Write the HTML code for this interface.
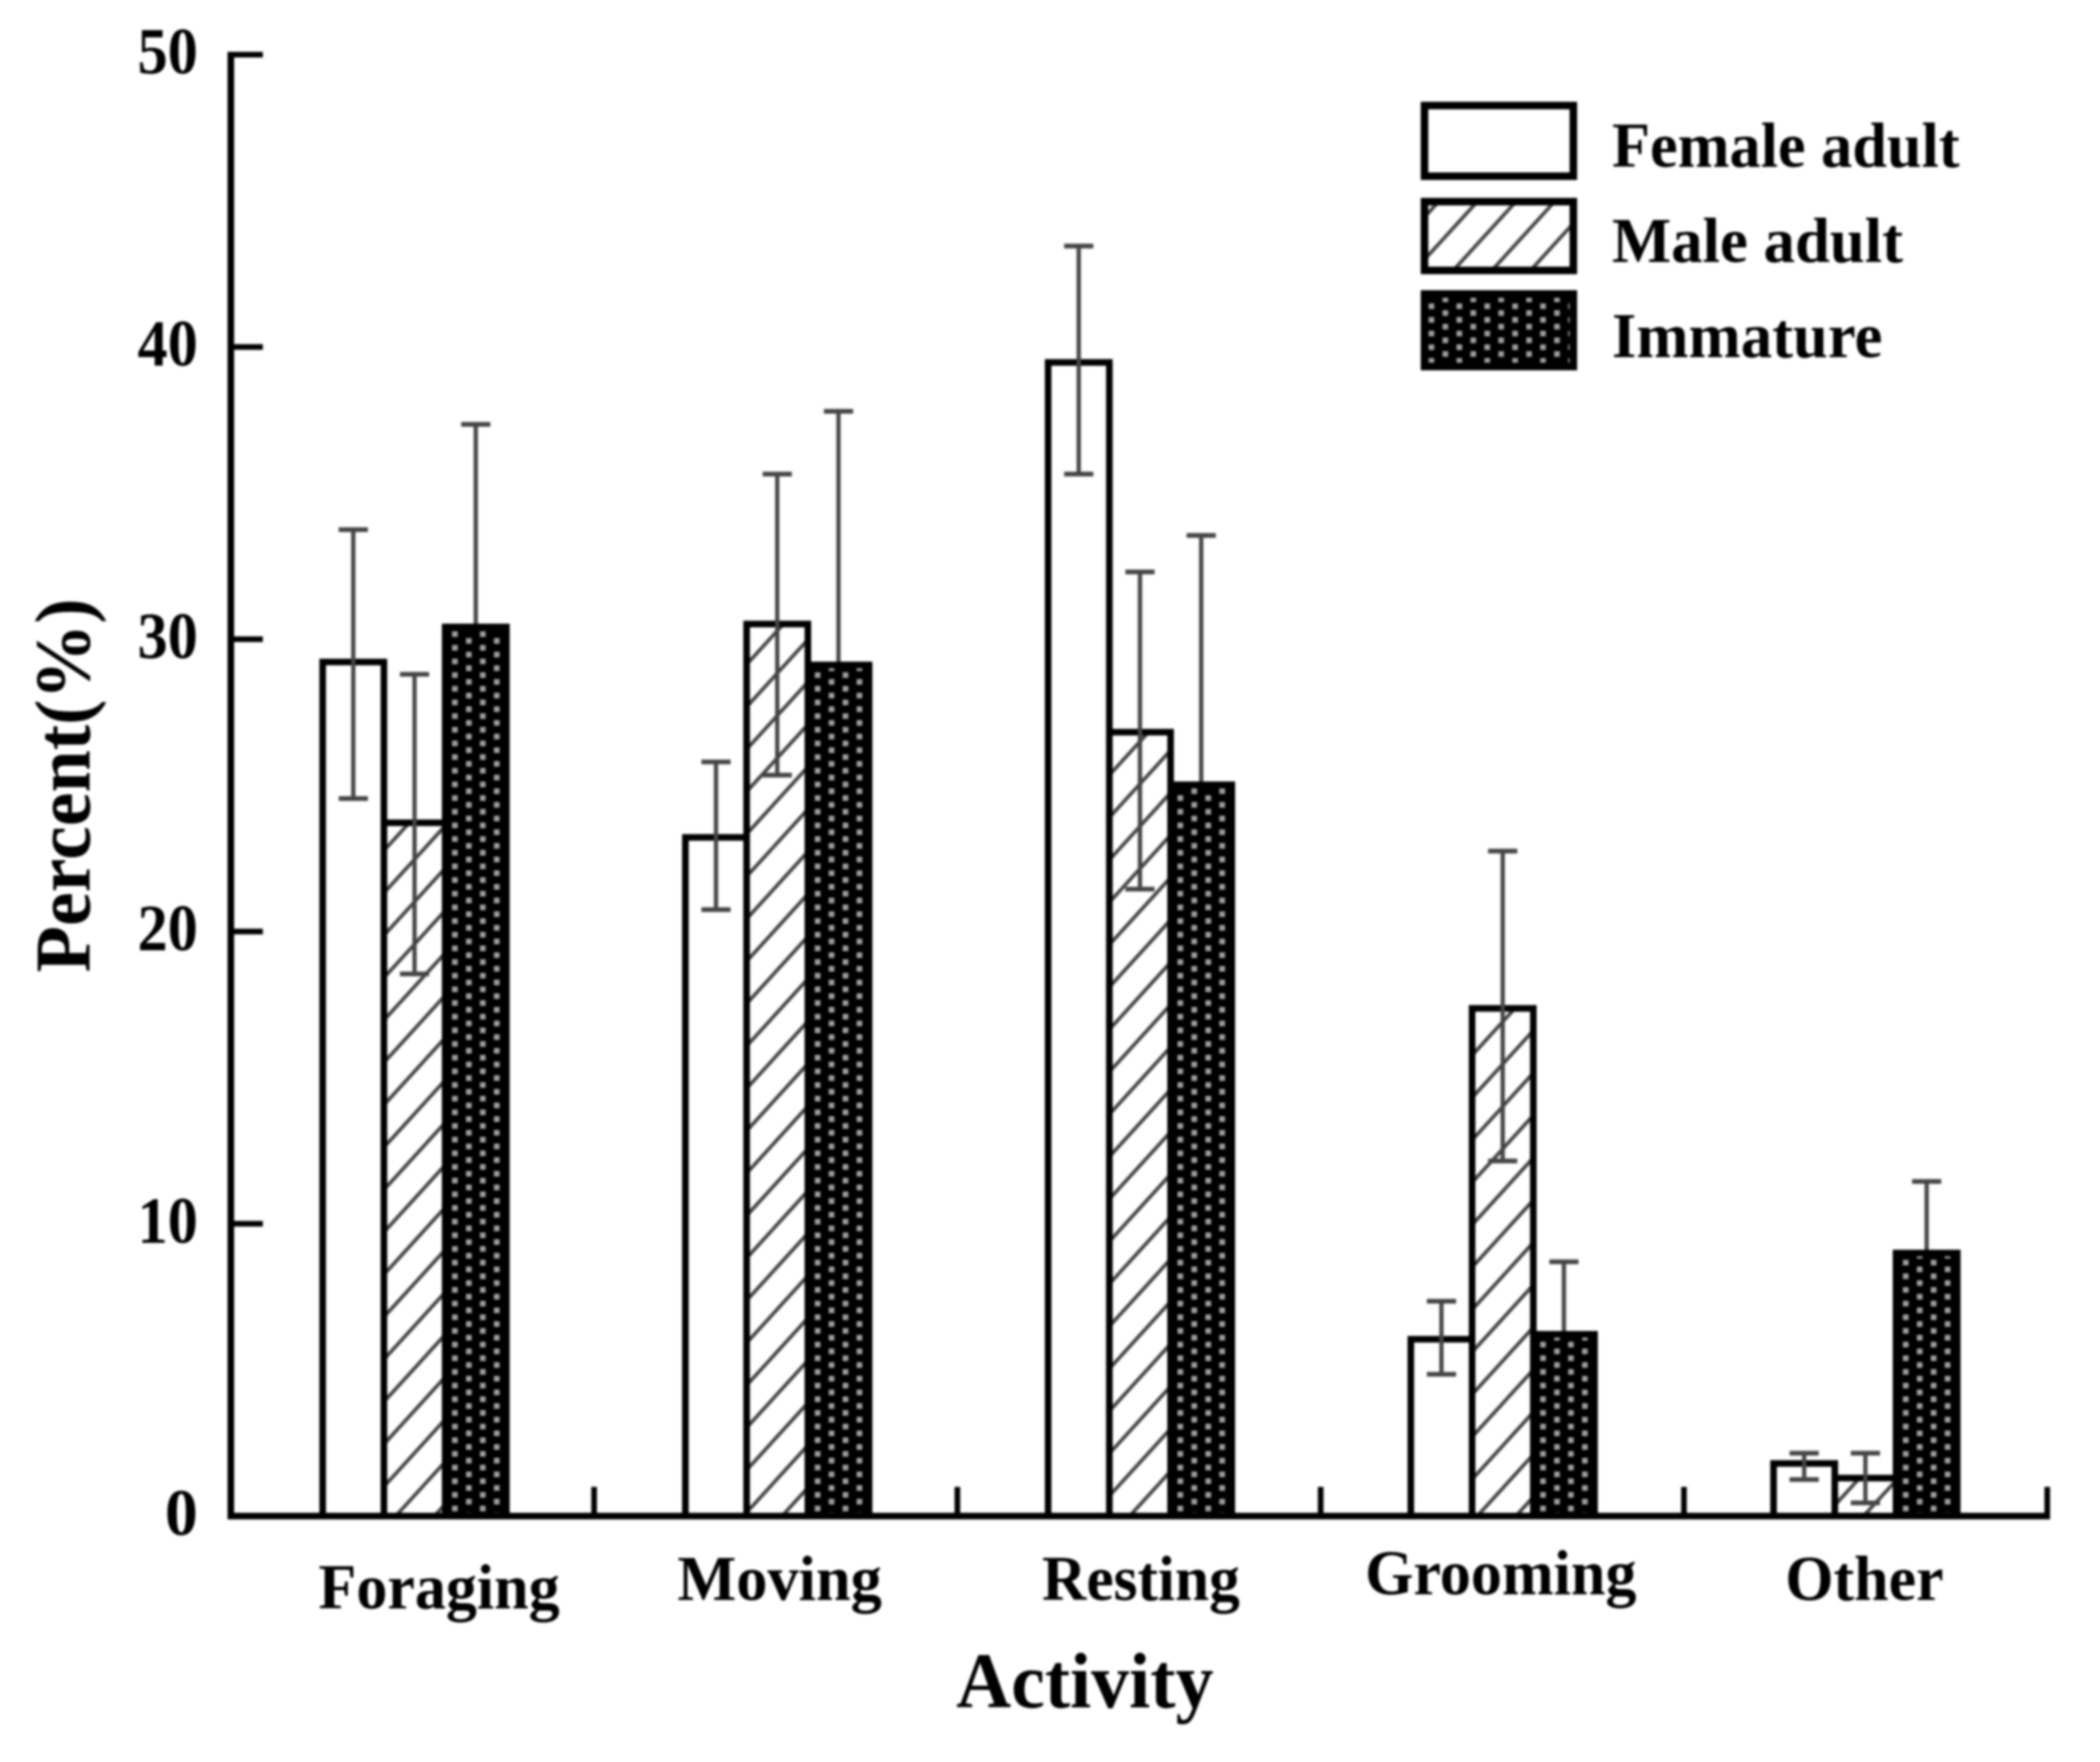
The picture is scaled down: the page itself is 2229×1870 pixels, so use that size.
<!DOCTYPE html>
<html lang="en">
<head>
<meta charset="utf-8">
<title>Activity budget chart</title>
<style>
  html, body { margin: 0; padding: 0; background: #fff; }
  #chart { display: block; width: 2229px; height: 1870px; filter: blur(1.3px); }
  text { font-family: "Liberation Serif", serif; font-weight: bold; fill: #000; }
</style>
</head>
<body>
<svg id="chart" xmlns="http://www.w3.org/2000/svg" width="2229" height="1870" viewBox="0 0 2229 1870">
  <defs>
    <pattern id="hatch" patternUnits="userSpaceOnUse" width="41" height="45">
      <rect width="41" height="45" fill="#fff"/>
      <path d="M-5.5 6 L5.5 -6 M0 45 L41 0 M35.5 51 L46.5 39" stroke="#444" stroke-width="3.8" fill="none"/>
    </pattern>
    <pattern id="dots" patternUnits="userSpaceOnUse" width="29.615" height="29">
      <rect width="29.615" height="29" fill="#000"/>
      <rect x="6" y="3" width="6" height="6" fill="#a0a0a0"/>
      <rect x="6" y="17.5" width="6" height="6" fill="#a0a0a0"/>
      <rect x="20.8" y="10.2" width="6" height="6" fill="#a0a0a0"/>
      <rect x="20.8" y="24.7" width="6" height="6" fill="#a0a0a0"/>
      <rect x="20.8" y="-4.3" width="6" height="6" fill="#a0a0a0"/>
    </pattern>
  </defs>

  <g id="marks"></g>
  <g id="axes"></g>

  <text x="338" y="1707" font-size="68" textLength="256" lengthAdjust="spacingAndGlyphs">Foraging</text>
  <text x="719" y="1698" font-size="68" textLength="217" lengthAdjust="spacingAndGlyphs">Moving</text>
  <text x="1106" y="1698" font-size="68" textLength="210" lengthAdjust="spacingAndGlyphs">Resting</text>
  <text x="1449" y="1692" font-size="68" textLength="288" lengthAdjust="spacingAndGlyphs">Grooming</text>
  <text x="1895" y="1698" font-size="68" textLength="168" lengthAdjust="spacingAndGlyphs">Other</text>

  <text x="1015" y="1812" font-size="84" textLength="273" lengthAdjust="spacingAndGlyphs">Activity</text>
  <text transform="translate(95 1032) rotate(-90)" font-size="84" textLength="397" lengthAdjust="spacingAndGlyphs">Percent(%)</text>

  <g>
    <rect x="1512" y="112" width="158" height="75" fill="#fff" stroke="#000" stroke-width="8"/>
    <text x="1711" y="177" font-size="68" textLength="369" lengthAdjust="spacingAndGlyphs">Female adult</text>
    <rect x="1512" y="214" width="158" height="73" fill="url(#hatch)" stroke="#000" stroke-width="8"/>
    <text x="1711" y="278" font-size="68" textLength="309" lengthAdjust="spacingAndGlyphs">Male adult</text>
    <rect x="1512" y="312" width="158" height="77" fill="url(#dots)" stroke="#000" stroke-width="8"/>
    <text x="1711" y="379" font-size="68" textLength="287" lengthAdjust="spacingAndGlyphs">Immature</text>
  </g>

<script>
var categories = ["foraging", "moving", "resting", "grooming", "other"];
var yTickLabels = [0, 10, 20, 30, 40, 50];

var femaleValues = [29.22, 23.22, 39.47, 6.05, 1.8];
var femaleErrHigh = [33.75, 25.8, 43.45, 7.35, 2.15];
var femaleErrLow = [24.55, 20.75, 35.65, 4.85, 1.25];

var maleValues = [23.72, 30.52, 26.82, 17.37, 1.3];
var maleErrHigh = [28.8, 35.65, 32.3, 22.75, 2.15];
var maleErrLow = [18.55, 25.35, 21.45, 12.15, 0.45];

var immatureValues = [30.42, 29.12, 25.02, 6.22, 9.0];
var immatureErrHigh = [37.35, 37.8, 33.55, 8.7, 11.45];
var immatureErrLow = [23.6, 20.5, 16.6, 3.9, 6.6];

var SVGNS = "http://www.w3.org/2000/svg";
var marks = document.getElementById("marks");
var axes = document.getElementById("axes");

var Y_ZERO = 1609, Y_TOP = 58, Y_MAX = 50;
var X_LEFT = 245, X_RIGHT = 2173;
var GROUP_START = 440, GROUP_STEP = 385, BAR_W = 65;
var BOUNDARY_COUNT = categories.length;

function yScale(v) { return Y_ZERO - (Y_ZERO - Y_TOP) * v / Y_MAX; }
function groupCenter(i) { return GROUP_START + GROUP_STEP * i; }
function barLeft(i, s) { return groupCenter(i) + (s - 1.5) * BAR_W; }
function boundaryX(i) { return X_LEFT + (X_RIGHT - X_LEFT) * i / BOUNDARY_COUNT; }

function make(parent, tag, attrs) {
  var el = document.createElementNS(SVGNS, tag);
  for (var k in attrs) el.setAttribute(k, attrs[k]);
  parent.appendChild(el);
  return el;
}

function drawBar(i, s, value, fill, seriesName) {
  var top = yScale(value);
  var el = make(marks, "rect", {
    x: barLeft(i, s), y: top, width: BAR_W, height: Y_ZERO - top,
    fill: fill, stroke: "#000", "stroke-width": 7
  });
  
  
}

function drawError(i, s, high, low, seriesName) {
  var cx = barLeft(i, s) + BAR_W / 2;
  var g = make(marks, "g", {stroke: "#444", fill: "none"});
  
  
  make(g, "line", {x1: cx, x2: cx, y1: yScale(high), y2: yScale(low), "stroke-width": 4.5});
  make(g, "line", {x1: cx - 15.5, x2: cx + 15.5, y1: yScale(high), y2: yScale(high), "stroke-width": 5});
  make(g, "line", {x1: cx - 15.5, x2: cx + 15.5, y1: yScale(low), y2: yScale(low), "stroke-width": 5});
}

categories.forEach(function (c, i) { drawBar(i, 0, femaleValues[i], "#fff", "female-adult"); });
categories.forEach(function (c, i) { drawBar(i, 1, maleValues[i], "url(#hatch)", "male-adult"); });
categories.forEach(function (c, i) { drawError(i, 0, femaleErrHigh[i], femaleErrLow[i], "female-adult"); });
categories.forEach(function (c, i) { drawError(i, 1, maleErrHigh[i], maleErrLow[i], "male-adult"); });
categories.forEach(function (c, i) { drawError(i, 2, immatureErrHigh[i], immatureErrLow[i], "immature"); });
categories.forEach(function (c, i) { drawBar(i, 2, immatureValues[i], "url(#dots)", "immature"); });

var yAxisLine = make(axes, "line", {x1: X_LEFT, x2: X_LEFT, y1: Y_TOP - 3, y2: Y_ZERO + 3.5, stroke: "#000", "stroke-width": 7});



var xAxisLine = make(axes, "line", {x1: X_LEFT - 3.5, x2: X_RIGHT + 3, y1: Y_ZERO, y2: Y_ZERO, stroke: "#000", "stroke-width": 7});



yTickLabels.forEach(function (t) {
  var y = yScale(t);
  if (t > 0) {
    var tick = make(axes, "line", {x1: X_LEFT, x2: X_LEFT + 34, y1: y, y2: y, stroke: "#000", "stroke-width": 6});
    
    
  }
  var attrs = {x: 210, y: y + 20, "font-size": 70, "text-anchor": "end"};
  if (t > 0) { attrs.textLength = 64; attrs.lengthAdjust = "spacingAndGlyphs"; }
  var label = make(axes, "text", attrs);
  label.textContent = String(t);
  
  
});

for (var b = 1; b <= BOUNDARY_COUNT; b++) {
  var xt = make(axes, "line", {x1: boundaryX(b), x2: boundaryX(b), y1: Y_ZERO - 31, y2: Y_ZERO, stroke: "#000", "stroke-width": 6});
  
  
}
</script>
</svg>
</body>
</html>
